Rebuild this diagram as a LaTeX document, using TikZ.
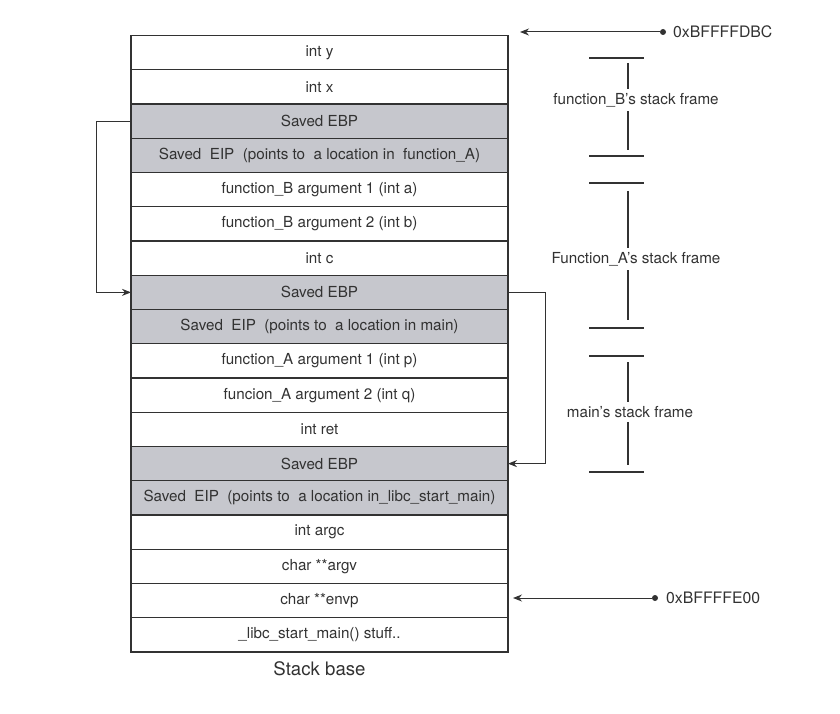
\documentclass[tikz,border=0pt]{standalone}
\usepackage{fontspec}
\setmainfont{TeX Gyre Heros}
\usepackage{xcolor}
\usepackage{tikz}
\usetikzlibrary{positioning,arrows.meta,calc}
\definecolor{framegray}{RGB}{198,199,205}
\definecolor{inkgray}{RGB}{50,50,50}
\tikzset{
  cell/.style      = {draw=inkgray, line width=1.1pt, minimum width=377pt, minimum height=34.25pt,
                      inner sep=0pt, outer sep=0pt, text=inkgray, font=\fontsize{15.2}{17}\selectfont},
  savedcell/.style = {cell, fill=framegray},
  ptr/.style       = {-{Stealth[length=9pt,width=7pt]}, draw=inkgray, line width=1pt},
  bar/.style       = {draw=inkgray, line width=1.2pt},
  framelabel/.style= {text=inkgray, inner sep=4pt, font=\fontsize{15.2}{17}\selectfont},
  addr/.style      = {text=inkgray, inner sep=0pt, font=\fontsize{15.8}{18}\selectfont},
  dot/.style       = {circle, fill=inkgray, inner sep=0pt, minimum size=6pt},
}

\begin{document}
\begin{tikzpicture}[x=1pt, y=1pt, node distance=0pt]
  \useasboundingbox (0,0) rectangle (840,-714);
  % the stack, top to bottom
  \node[cell, anchor=north west] (inty) at (131,-35.5) {int y};
  \node[cell, below=of inty] (intx) {int x};
  \node[savedcell, below=of intx] (ebpB) {Saved EBP};
  \node[savedcell, below=of ebpB] (eipB) {Saved\ \ EIP\ \ (points to\ \ a location in\ \ function\_A)};
  \node[cell, below=of eipB] (argBa) {function\_B argument\ 1 (int a)};
  \node[cell, below=of argBa] (argBb) {function\_B argument\ 2 (int b)};
  \node[cell, below=of argBb] (intc) {int c};
  \node[savedcell, below=of intc] (ebpA) {Saved EBP};
  \node[savedcell, below=of ebpA] (eipA) {Saved\ \ EIP\ \ (points to\ \ a location in main)};
  \node[cell, below=of eipA] (argAp) {function\_A argument\ 1 (int p)};
  \node[cell, below=of argAp] (argAq) {funcion\_A argument\ 2 (int q)};
  \node[cell, below=of argAq] (intret) {int ret};
  \node[savedcell, below=of intret] (ebpM) {Saved EBP};
  \node[savedcell, below=of ebpM] (eipM) {Saved\ \ EIP\ \ (points to\ \ a location in\_libc\_start\_main)};
  \node[cell, below=of eipM] (argc) {int argc};
  \node[cell, below=of argc] (argv) {char **argv};
  \node[cell, below=of argv] (envp) {char **envp};
  \node[cell, below=of envp] (stuff) {\_libc\_start\_main() stuff..};
  \node[text=inkgray, font=\fontsize{18.6}{21}\selectfont, below=6pt of stuff] (base) {Stack base};

  % saved frame pointers
  \draw[ptr] (ebpB.west) -- ++(-35,0) |- (ebpA.west);
  \draw[ptr] (ebpA.east) -- ++(37,0) |- (ebpM.east);

  % addresses
  \node[dot] (topdot) at (663,-32) {};
  \node[addr, anchor=west] (topaddr) at (673,-32) {0xBFFFFDBC};
  \coordinate (topend) at (520,-32);
  \draw[ptr] (topdot) -- (topend);
  \node[dot] (botdot) at (655,-598) {};
  \node[addr, anchor=west] (botaddr) at (666,-598) {0xBFFFFE00};
  \coordinate (botend) at (513,-598);
  \draw[ptr] (botdot) -- (botend);

  % stack frames
  \node[framelabel] (frameB) at (636,-100) {function\_B's stack frame};
  \node[framelabel] (frameA) at (636,-259) {Function\_A's stack frame};
  \node[framelabel] (frameM) at (630,-412) {main's stack frame};
  \draw[bar] (589,-58) -- (644,-58);
  \draw[bar] (589,-156) -- (644,-156);
  \draw[bar] (589,-183) -- (644,-183);
  \draw[bar] (589,-328) -- (644,-328);
  \draw[bar] (589,-356) -- (644,-356);
  \draw[bar] (589,-472) -- (644,-472);
  \coordinate (Btop) at (628,-63);
  \coordinate (Bbot) at (628,-150);
  \coordinate (Atop) at (628,-191);
  \coordinate (Abot) at (628,-320);
  \coordinate (Mtop) at (628,-362);
  \coordinate (Mbot) at (628,-465);
  \draw[bar] (Btop) -- (frameB.north -| Btop);
  \draw[bar] (frameB.south -| Bbot) -- (Bbot);
  \draw[bar] (Atop) -- (frameA.north -| Atop);
  \draw[bar] (frameA.south -| Abot) -- (Abot);
  \draw[bar] (Mtop) -- (frameM.north -| Mtop);
  \draw[bar] (frameM.south -| Mbot) -- (Mbot);
\end{tikzpicture}
\end{document}
